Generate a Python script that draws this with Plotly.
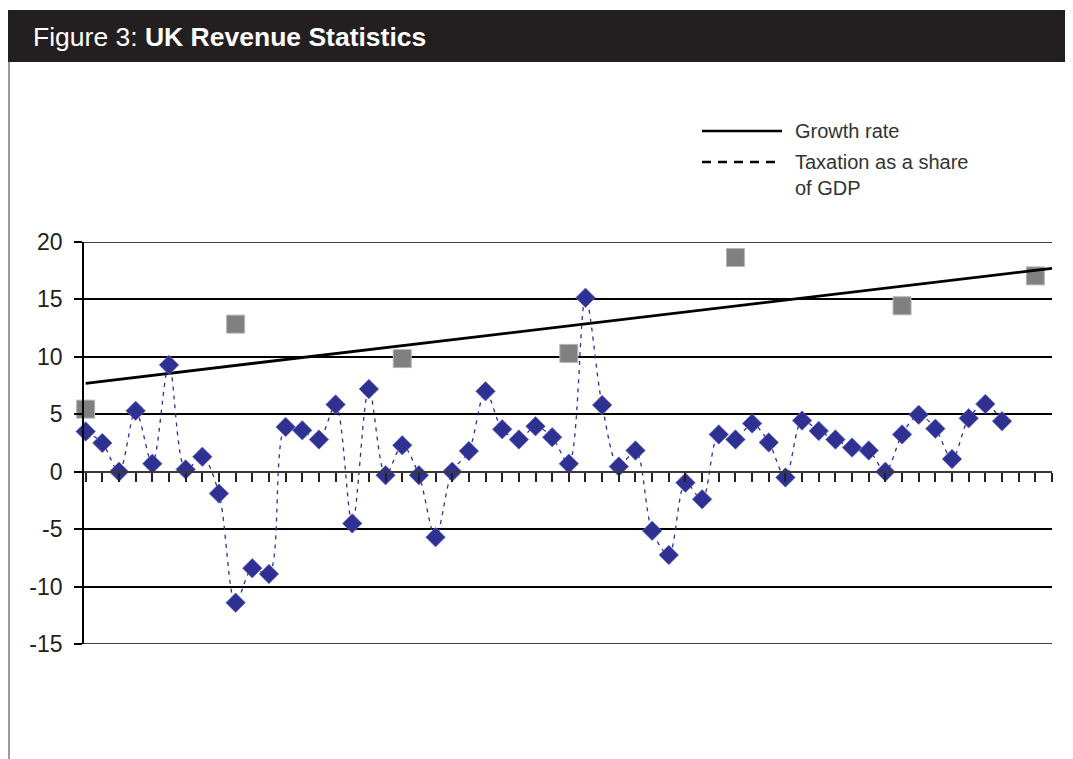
import plotly.graph_objects as go

# ---------------- data ----------------
tax_index = list(range(56))
tax_values = [3.5, 2.5, 0.0, 5.3, 0.7, 9.3, 0.2, 1.3, -1.9, -11.4,
              -8.4, -8.9, 3.9, 3.6, 2.8, 5.85, -4.5, 7.2, -0.3, 2.3,
              -0.3, -5.7, 0.0, 1.8, 7.0, 3.7, 2.8, 3.95, 3.0, 0.7,
              15.15, 5.8, 0.45, 1.85, -5.15, -7.25, -0.95, -2.4, 3.25, 2.8,
              4.2, 2.55, -0.5, 4.45, 3.55, 2.8, 2.1, 1.85, 0.0, 3.25,
              4.95, 3.75, 1.1, 4.65, 5.9, 4.4]

growth_index = [0, 9, 19, 29, 39, 49, 57]
growth_values = [5.45, 12.85, 9.85, 10.3, 18.65, 14.45, 17.05]

trend_index = [0, 58]
trend_values = [7.7, 17.7]

y_min, y_max = -15, 20
y_tickvals = [20, 15, 10, 5, 0, -5, -10, -15]
y_ticktext = ["20", "15", "10", "5", "0", "-5", "-10", "-15"]

title_plain = "Figure 3: "
title_bold = "UK Revenue Statistics"
legend_labels = ["Growth rate", "Taxation as a share", "of GDP"]

# ---------------- layout geometry ----------------
# the page body adds an 8px margin, so figure coords = page coords - 8
OFF = 8
W, H = 1073 - OFF, 759 - OFF
L, T = 84 - OFF, 242 - OFF
R = W - (1052 - OFF)
B = H - (644 - OFF)
PW, PH = W - L - R, H - T - B


def px(x):
    """page x pixel -> paper fraction"""
    return (x - OFF - L) / PW


def py(y):
    """page y pixel -> paper fraction"""
    return (H - B - (y - OFF)) / PH


FONT = "'Liberation Sans', Arial, Helvetica, sans-serif"
NAVY = "#2E3192"

fig = go.Figure()

# grey squares
fig.add_trace(go.Scatter(
    x=growth_index, y=growth_values, mode="markers", cliponaxis=False,
    marker=dict(symbol="square", size=18, color="#808080",
                line=dict(color="#b5b5b5", width=1)),
    showlegend=False, hoverinfo="skip"))

# growth trend line
fig.add_trace(go.Scatter(
    x=trend_index, y=trend_values, mode="lines",
    line=dict(color="black", width=2.8),
    showlegend=False, hoverinfo="skip"))

# taxation diamonds with smoothed dashed line
fig.add_trace(go.Scatter(
    x=tax_index, y=tax_values, mode="lines+markers", cliponaxis=False,
    line=dict(color=NAVY, width=1.3, dash="4px,5px", shape="spline", smoothing=0.9),
    marker=dict(symbol="diamond", size=15, color=NAVY,
                line=dict(color="#6b6fc4", width=0.7)),
    showlegend=False, hoverinfo="skip"))

shapes = []
# title bar
shapes.append(dict(type="rect", xref="paper", yref="paper",
                   x0=px(8), x1=px(1073), y0=py(62), y1=py(10),
                   fillcolor="#231f20", line=dict(width=0), layer="below"))
# left border
shapes.append(dict(type="line", xref="paper", yref="paper",
                   x0=px(9), x1=px(9), y0=py(62), y1=py(759),
                   line=dict(color="#7a7a7a", width=1.5)))
# top and bottom gridlines (plotly omits gridlines at the range edges)
for yv in (y_min, y_max):
    shapes.append(dict(type="line", xref="paper", yref="y",
                       x0=0, x1=1, y0=yv, y1=yv, layer="below",
                       line=dict(color="black", width=1.5)))
# legend glyphs
shapes.append(dict(type="line", xref="paper", yref="paper",
                   x0=px(702), x1=px(782), y0=py(131), y1=py(131),
                   line=dict(color="black", width=2.5)))
shapes.append(dict(type="line", xref="paper", yref="paper",
                   x0=px(702), x1=px(782), y0=py(162), y1=py(162),
                   line=dict(color="black", width=2.5, dash="9px,7px")))

annotations = []
annotations.append(dict(xref="paper", yref="paper", x=px(31), y=py(37),
                        xanchor="left", yanchor="middle", showarrow=False,
                        text=title_plain + "<b>" + title_bold + "</b>",
                        font=dict(family=FONT, size=26.5, color="white")))
for label, yy in zip(legend_labels, [131, 162, 188]):
    annotations.append(dict(xref="paper", yref="paper", x=px(793), y=py(yy),
                            xanchor="left", yanchor="middle", showarrow=False,
                            text=label,
                            font=dict(family=FONT, size=20, color="#333333")))

fig.update_layout(
    width=W, height=H,
    margin=dict(l=L, r=R, t=T, b=B, pad=0),
    paper_bgcolor="white", plot_bgcolor="white",
    font=dict(family=FONT, color="#231f20"),
    shapes=shapes, annotations=annotations,
    showlegend=False,
)

fig.update_xaxes(
    range=[-0.1, 58], showgrid=False, zeroline=False,
    anchor="free", position=(0 - y_min) / (y_max - y_min),
    showline=True, linecolor="#3a3a3a", linewidth=2.2,
    ticks="outside", ticklen=9, tickwidth=1.6, tickcolor="#222222",
    tick0=0, dtick=1, showticklabels=False,
)
fig.update_yaxes(
    range=[y_min, y_max], tickvals=y_tickvals, ticktext=y_ticktext,
    showgrid=True, gridcolor="#000000", gridwidth=1.5, zeroline=False,
    showline=True, linecolor="black", linewidth=1.8,
    ticks="outside", ticklen=8, tickwidth=1.5, tickcolor="black",
    ticklabelstandoff=7,
    tickfont=dict(family=FONT, size=23, color="#231f20"),
)

fig.write_html("out.html")
